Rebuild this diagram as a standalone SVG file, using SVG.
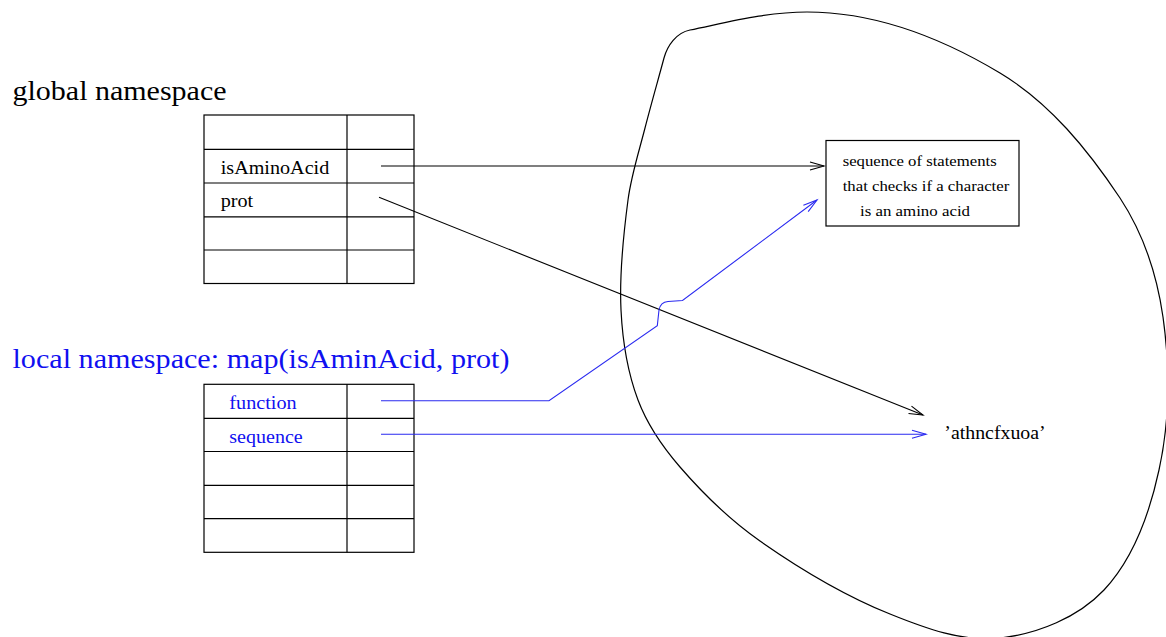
<svg xmlns="http://www.w3.org/2000/svg" width="1166" height="637" viewBox="0 0 1166 637">
  <style>
    .grid { fill: #ffffff; stroke: #000000; stroke-width: 1.2; }
    .rule { stroke: #000000; stroke-width: 1.2; fill: none; }
    .serif { font-family: "Liberation Serif", "Times New Roman", serif; }
    .title { font-size: 27.5px; }
    .cell { font-size: 18px; }
    .note { font-size: 15px; }
    .black { fill: #000000; }
    .blue { fill: #1010f0; }
    .wire-black { stroke: #000000; stroke-width: 1.1; fill: none; }
    .wire-blue { stroke: #2a2af0; stroke-width: 1.1; fill: none; }
  </style>
  <defs>
    <marker id="open-black" markerUnits="userSpaceOnUse" viewBox="-16 -6 18 12" refX="0" refY="0" markerWidth="18" markerHeight="12" orient="auto" overflow="visible">
      <path d="M -14 -4 L 0 0 L -14 4" fill="none" stroke="#000000" stroke-width="1.1"/>
    </marker>
    <marker id="open-blue" markerUnits="userSpaceOnUse" viewBox="-16 -6 18 12" refX="0" refY="0" markerWidth="18" markerHeight="12" orient="auto" overflow="visible">
      <path d="M -14 -4 L 0 0 L -14 4" fill="none" stroke="#2a2af0" stroke-width="1.1"/>
    </marker>
  </defs>

  <rect width="1166" height="637" fill="#ffffff"/>

  <!-- object space: closed spline around the objects -->
  <g id="object-space">
    <path class="rule" d="M 645 128
      C 651 104.6 657.7 81.4 664 58
      C 667.4 45.4 676.3 32.8 690 30
      C 729.2 22 767 12 807 12
      C 877 12 945 40 1000 73
      C 1050 103 1088 150 1120 198
      C 1143 233 1157 275 1163 317
      C 1170 367.5 1170 420 1159 470
      C 1149.7 513 1134 558 1104 590
      C 1077.9 617.6 1037.8 633.8 1000 638
      C 962.7 642.2 924.8 628.1 890 614
      C 843.9 595.4 800.7 569.5 760 541
      C 730.3 520.2 703.7 494.4 680 467
      C 662.7 447 647.3 424.7 638 400
      C 627.3 371.5 622.5 340.5 621 310
      C 619.2 273.3 623.2 236.4 628 200
      C 631.2 175.5 638.9 151.9 645 128 Z"/>
  </g>

  <!-- global namespace table -->
  <g id="global-namespace">
    <text class="serif title black" x="12.5" y="100" textLength="214" lengthAdjust="spacingAndGlyphs">global namespace</text>
    <rect class="grid" x="204" y="115" width="210" height="168.5"/>
    <line class="rule" x1="347" y1="115" x2="347" y2="283.5"/>
    <line class="rule" x1="204" y1="149.3" x2="414" y2="149.3"/>
    <line class="rule" x1="204" y1="183" x2="414" y2="183"/>
    <line class="rule" x1="204" y1="216.8" x2="414" y2="216.8"/>
    <line class="rule" x1="204" y1="250" x2="414" y2="250"/>
    <text class="serif cell black" x="220.7" y="174" textLength="108.6" lengthAdjust="spacingAndGlyphs">isAminoAcid</text>
    <text class="serif cell black" x="220.7" y="207.3" textLength="32.5" lengthAdjust="spacingAndGlyphs">prot</text>
  </g>

  <!-- local namespace table for the map call -->
  <g id="local-namespace">
    <text class="serif title blue" x="12.5" y="368" textLength="497" lengthAdjust="spacingAndGlyphs">local namespace: map(isAminAcid, prot)</text>
    <rect class="grid" x="204" y="384.3" width="210" height="168"/>
    <line class="rule" x1="347" y1="384.3" x2="347" y2="552.3"/>
    <line class="rule" x1="204" y1="418.3" x2="414" y2="418.3"/>
    <line class="rule" x1="204" y1="451.5" x2="414" y2="451.5"/>
    <line class="rule" x1="204" y1="485.3" x2="414" y2="485.3"/>
    <line class="rule" x1="204" y1="518.7" x2="414" y2="518.7"/>
    <text class="serif cell blue" x="229.3" y="409.3" textLength="67.4" lengthAdjust="spacingAndGlyphs">function</text>
    <text class="serif cell blue" x="229.3" y="442.7" textLength="73.4" lengthAdjust="spacingAndGlyphs">sequence</text>
  </g>

  <!-- function object -->
  <g id="function-object">
    <rect class="grid" x="826" y="140.5" width="193" height="85.5"/>
    <text class="serif note black" x="842.7" y="166" textLength="154" lengthAdjust="spacingAndGlyphs">sequence of statements</text>
    <text class="serif note black" x="842.7" y="191" textLength="166.6" lengthAdjust="spacingAndGlyphs">that checks if a character</text>
    <text class="serif note black" x="860" y="216" textLength="110" lengthAdjust="spacingAndGlyphs">is an amino acid</text>
  </g>

  <!-- string object -->
  <g id="string-object">
    <text class="serif cell black" x="944.3" y="438.5" textLength="101.4" lengthAdjust="spacingAndGlyphs">&#8217;athncfxuoa&#8217;</text>
  </g>

  <!-- references from names to objects -->
  <g id="connectors">
    <line class="wire-black" x1="381" y1="166" x2="824" y2="166" marker-end="url(#open-black)"/>
    <line class="wire-black" x1="379" y1="197.3" x2="923" y2="415" marker-end="url(#open-black)"/>
    <path class="wire-blue" d="M 381 400.7 L 549 400.7 L 657.3 325.7 L 659 310 Q 660.5 302 668 301.5 L 682.5 300.5 L 817 200" marker-end="url(#open-blue)"/>
    <line class="wire-blue" x1="381" y1="434.3" x2="926" y2="434.3" marker-end="url(#open-blue)"/>
  </g>
</svg>
